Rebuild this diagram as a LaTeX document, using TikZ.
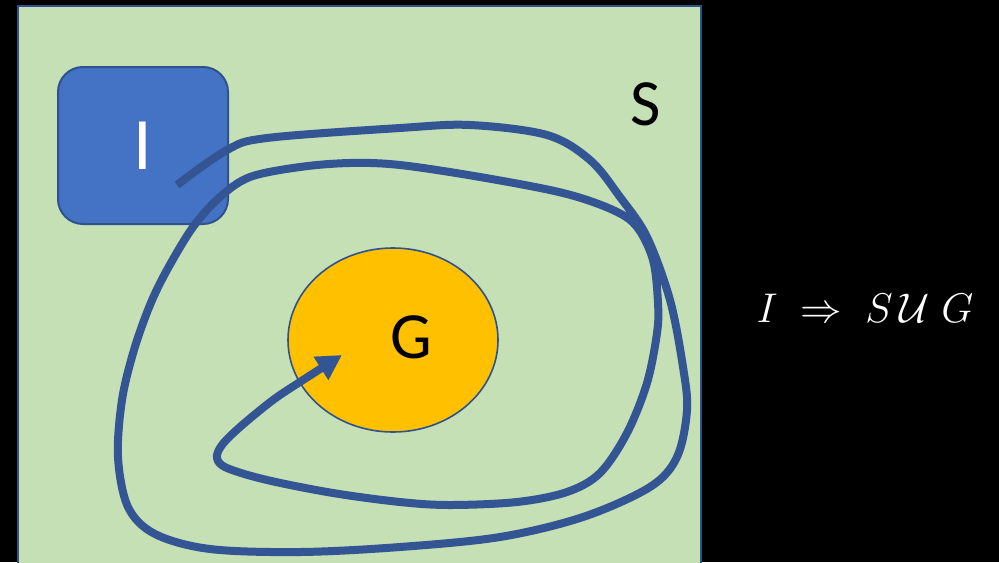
\documentclass[tikz,border=0pt]{standalone}
\usepackage{fontspec}
\setmainfont{Carlito}
\usepackage{amsmath}
\usepackage{xcolor}
\usepackage{tikz}
\usetikzlibrary{arrows.meta, shapes.geometric}
\definecolor{setfill}{HTML}{C5E0B4}
\definecolor{setline}{HTML}{2F528F}
\definecolor{initfill}{HTML}{4472C4}
\definecolor{goalfill}{HTML}{FFC000}
\definecolor{runline}{HTML}{335593}
\tikzset{
  setbox/.style  = {fill=setfill, draw=setline, line width=1.2pt},
  initbox/.style = {draw=setline, fill=initfill, line width=1pt, rounded corners=12.5pt,
                    minimum width=85pt, minimum height=78.5pt, text=white,
                    font=\fontsize{37}{40}\selectfont},
  goalbox/.style = {ellipse, draw=setline, fill=goalfill, line width=0.8pt,
                    minimum width=105pt, minimum height=92pt},
  lbl/.style     = {font=\fontsize{33}{36}\selectfont, inner sep=0pt},
  run/.style     = {-{Triangle[length=12.5pt, width=13pt]}, draw=runline,
                    line width=4pt, line join=round}
}

\begin{document}
\begin{tikzpicture}[x=0.5pt, y=-0.5pt]
  \fill[black] (0,0) rectangle (999,562);
  \useasboundingbox (0,0) rectangle (999,562);
  \clip (0,0) rectangle (999,562);
  % the set S
  \draw[setbox] (18,6) rectangle (701,600);
  \node[lbl] (slbl) at (646,104) {S};
  \node[initbox] (init) at (143,145.5) {I};
  \node[goalbox] (goal) at (393,340) {};
  \node[lbl] (glbl) at (411,337) {G};
  % a run from I that stays in S until it reaches G
  \coordinate (runstart) at (177,185);
  \coordinate (runend) at (342,355);
  \draw[run] plot[smooth, tension=0.55] coordinates {
    (runstart) (227,150) (267,138) (400,128) (470,125) (547,135) (590,160)
    (620,197) (647,237) (670,300) (683,367) (687,410) (677,457) (650,487)
    (583,517) (500,537) (400,547) (300,552) (210,549) (155,534) (128,507)
    (118,457) (122,400) (134,350) (150,305) (167,270) (193,227) (220,197)
    (250,177) (300,167) (350,163) (400,165) (480,177) (563,193) (613,210)
    (637,227) (653,260) (658,303) (657,333) (647,383) (627,433) (600,473)
    (567,492) (517,502) (450,505) (400,502) (333,493) (267,480) (227,468)
    (217,458) (222,445) (240,427) (273,400) (303,380) (runend)};
  \node[text=white, font=\fontsize{22}{26}\selectfont] (formula) at (865,308)
       {$I \;\Rightarrow\; S\,\mathcal{U}\;G$};
\end{tikzpicture}
\end{document}
